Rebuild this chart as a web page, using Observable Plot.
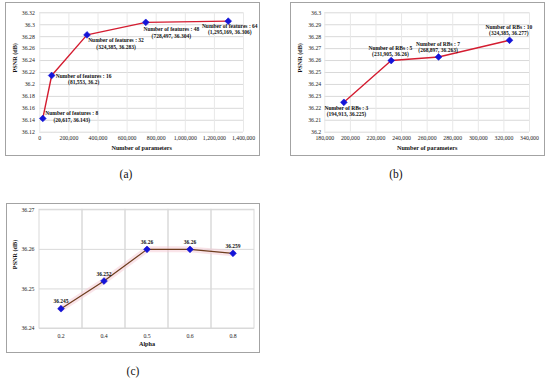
<!DOCTYPE html>
<html><head><meta charset="utf-8">
<script src="https://cdn.jsdelivr.net/npm/d3@7"></script>
<script src="https://cdn.jsdelivr.net/npm/@observablehq/plot@0.6"></script>
<style>
html,body{margin:0;padding:0;background:#fff;}
#page{position:relative;width:550px;height:382px;overflow:hidden;background:#fff;font-family:"Liberation Serif",serif;}
.panel{position:absolute;}
.panel svg{display:block;}
.frame{position:absolute;box-sizing:border-box;border:1.5px solid #a3a3a3;pointer-events:none;}
.cap{position:absolute;font-size:11.5px;line-height:1;transform:translate(-50%,-50%);color:#111;font-family:"Liberation Serif",serif;}
</style></head><body><div id="page"></div>
<script>
// ---- Panel (a): number of features ----
const featParams = [20617, 81553, 324385, 728497, 1295169];
const featPSNR = [36.143, 36.215, 36.283, 36.304, 36.306];
const featLabel1 = ["Number of features : 8", "Number of features : 16", "Number of features : 32", "Number of features : 48", "Number of features : 64"];
const featLabel2 = ["(20,617, 36.143)", "(81,553, 36.2)", "(324,385, 36.283)", "(728,497, 36.304)", "(1,295,169, 36.306)"];
const featXTicks = [0, 200000, 400000, 600000, 800000, 1000000, 1200000, 1400000];
const featYTicks = [36.12, 36.14, 36.16, 36.18, 36.2, 36.22, 36.24, 36.26, 36.28, 36.3, 36.32];

// ---- Panel (b): number of RBs ----
const rbParams = [194913, 231905, 268897, 324385];
const rbPSNR = [36.225, 36.26, 36.263, 36.277];
const rbLabel1 = ["Number of RBs : 3", "Number of RBs : 5", "Number of RBs : 7", "Number of RBs : 10"];
const rbLabel2 = ["(194,913, 36.225)", "(231,905, 36.26)", "(268,897, 36.263)", "(324,385, 36.277)"];
const rbXTicks = [180000, 200000, 220000, 240000, 260000, 280000, 300000, 320000, 340000];
const rbYTicks = [36.2, 36.21, 36.22, 36.23, 36.24, 36.25, 36.26, 36.27, 36.28, 36.29, 36.3];

// ---- Panel (c): alpha ----
const alphaLabels = ["0.2", "0.4", "0.5", "0.6", "0.8"];
const alphaPSNR = [36.245, 36.252, 36.26, 36.26, 36.259];
const alphaText = ["36.245", "36.252", "36.26", "36.26", "36.259"];
const alphaYTicks = [36.24, 36.25, 36.26, 36.27];

const captions = ["(a)", "(b)", "(c)"];

const fmtY = d => String(+d.toFixed(3));
const RED = "#d41c30", BLUE = "#1414d8";
// square (equal width/height) diamond marker
const squareDiamond = {
  draw(ctx, size) {
    const h = Math.sqrt(size / 2);
    ctx.moveTo(0, -h); ctx.lineTo(h, 0); ctx.lineTo(0, h); ctx.lineTo(-h, 0); ctx.closePath();
  }
};
const baseStyle = {fontFamily: "'Liberation Serif', 'Times New Roman', serif", fontSize: "5.8px", color: "#222", background: "transparent", overflow: "visible"};
const page = document.getElementById("page");

function place(el, left, top) {
  const d = document.createElement("div");
  d.className = "panel";
  d.style.left = left + "px"; d.style.top = top + "px";
  d.appendChild(el);
  page.appendChild(d);
}
function frame(l, t, r, b) {
  const d = document.createElement("div");
  d.className = "frame";
  Object.assign(d.style, {left: l + "px", top: t + "px", width: (r - l) + "px", height: (b - t) + "px"});
  page.appendChild(d);
}
function caption(text, x, y) {
  const d = document.createElement("div");
  d.className = "cap";
  d.textContent = text;
  d.style.left = x + "px"; d.style.top = y + "px";
  page.appendChild(d);
}
const boldTxt = {fontWeight: "bold", fontSize: 5.5, lineHeight: 1.15, fill: "#111"};
const dotOpts = {symbol: squareDiamond, r: 2.7, fill: BLUE, stroke: BLUE, strokeWidth: 0.6, strokeLinejoin: "round"};

// Panel (a)
const tableA = featParams.map((x, i) => ({x, y: featPSNR[i], label: featLabel1[i] + "\n" + featLabel2[i]}));
const offA = [[29, -2], [32, 3.4], [29, 8.7], [25.5, 10], [1.5, 8]];
const plotA = Plot.plot({
  width: 275, height: 160, marginLeft: 39.3, marginRight: 32, marginTop: 12.3, marginBottom: 28.3,
  style: baseStyle,
  x: {domain: [0, 1400000]}, y: {domain: [36.12, 36.32]},
  marks: [
    Plot.gridY(featYTicks, {stroke: "#d9d9d9", strokeOpacity: 1}),
    Plot.gridX(featXTicks, {stroke: "#e8e8e8", strokeOpacity: 1}),
    Plot.axisX(featXTicks, {tickSize: 0, tickPadding: 3.4, tickFormat: d3.format(","), label: null}),
    Plot.axisY(featYTicks, {tickSize: 0, tickPadding: 5, tickFormat: fmtY, label: null}),
    Plot.text(["Number of parameters"], {frameAnchor: "bottom", lineAnchor: "middle", dy: 15.6, fontWeight: "bold", fontSize: 6.2, fill: "#111"}),
    Plot.text(["PSNR (dB)"], {frameAnchor: "left", rotate: -90, dx: -24.5, fontWeight: "bold", fontSize: 6.2, fill: "#111"}),
    Plot.line(tableA, {x: "x", y: "y", stroke: RED, strokeWidth: 1.4}),
    Plot.dot(tableA, {x: "x", y: "y", ...dotOpts}),
    ...offA.map(([dx, dy], i) => Plot.text([tableA[i]], {x: "x", y: "y", text: "label", dx, dy, ...boldTxt}))
  ]
});
place(plotA, 0, 0);

// Panel (b)
const tableB = rbParams.map((x, i) => ({x, y: rbPSNR[i], label: rbLabel1[i] + "\n" + rbLabel2[i]}));
const offB = [[2.5, 8.9], [-0.8, -9.4], [-0.5, -10], [-0.7, -10.3]];
const plotB = Plot.plot({
  width: 275, height: 160, marginLeft: 49.3, marginRight: 21, marginTop: 12.3, marginBottom: 28.3,
  style: baseStyle,
  x: {domain: [180000, 340000]}, y: {domain: [36.2, 36.3]},
  marks: [
    Plot.gridY(rbYTicks, {stroke: "#d9d9d9", strokeOpacity: 1}),
    Plot.gridX(rbXTicks, {stroke: "#e8e8e8", strokeOpacity: 1}),
    Plot.axisX(rbXTicks, {tickSize: 0, tickPadding: 3.7, tickFormat: d3.format(","), label: null}),
    Plot.axisY(rbYTicks, {tickSize: 0, tickPadding: 3.6, tickFormat: fmtY, label: null}),
    Plot.text(["Number of parameters"], {frameAnchor: "bottom", lineAnchor: "middle", dy: 15.6, fontWeight: "bold", fontSize: 6.2, fill: "#111"}),
    Plot.text(["PSNR (dB)"], {frameAnchor: "left", rotate: -90, dx: -24.5, fontWeight: "bold", fontSize: 6.2, fill: "#111"}),
    Plot.line(tableB, {x: "x", y: "y", stroke: RED, strokeWidth: 1.4}),
    Plot.dot(tableB, {x: "x", y: "y", ...dotOpts}),
    ...offB.map(([dx, dy], i) => Plot.text([tableB[i]], {x: "x", y: "y", text: "label", dx, dy, ...boldTxt}))
  ]
});
place(plotB, 275, 0);

// Panel (c)
const tableC = alphaLabels.map((a, i) => ({a, y: alphaPSNR[i], t: alphaText[i]}));
const plotC = Plot.plot({
  width: 275, height: 170, marginLeft: 39, marginRight: 21, marginTop: 19.3, marginBottom: 32,
  style: baseStyle,
  x: {type: "band", domain: alphaLabels, padding: 0}, y: {domain: [36.24, 36.27]},
  marks: [
    Plot.gridY(alphaYTicks, {stroke: "#d9d9d9", strokeOpacity: 1}),
    Plot.cell(alphaLabels, {x: d => d, fill: "none", stroke: "#d9d9d9", inset: 0}),
    Plot.axisX(alphaLabels, {tickSize: 0, tickPadding: 5.5, label: null}),
    Plot.axisY(alphaYTicks, {tickSize: 0, tickPadding: 5, tickFormat: fmtY, label: null}),
    Plot.text(["Alpha"], {frameAnchor: "bottom", lineAnchor: "middle", dy: 16, fontWeight: "bold", fontSize: 6.2, fill: "#111"}),
    Plot.text(["PSNR (dB)"], {frameAnchor: "left", rotate: -90, dx: -24.3, fontWeight: "bold", fontSize: 6.2, fill: "#111"}),
    Plot.line(tableC, {x: "a", y: "y", stroke: "#f6c9d4", strokeOpacity: 0.5, strokeWidth: 6}),
    Plot.line(tableC, {x: "a", y: "y", stroke: "#6e3d1e", strokeWidth: 1.2}),
    Plot.dot(tableC, {x: "a", y: "y", ...dotOpts}),
    Plot.text(tableC, {x: "a", y: "y", text: "t", dy: -7.5, ...boldTxt})
  ]
});
place(plotC, 0, 190);

frame(5, 2, 260, 156);
frame(290, 2, 545, 156);
frame(6, 203, 260, 353);
caption(captions[0], 126, 175);
caption(captions[1], 396, 175);
caption(captions[2], 133, 372);
</script>
</body></html>
